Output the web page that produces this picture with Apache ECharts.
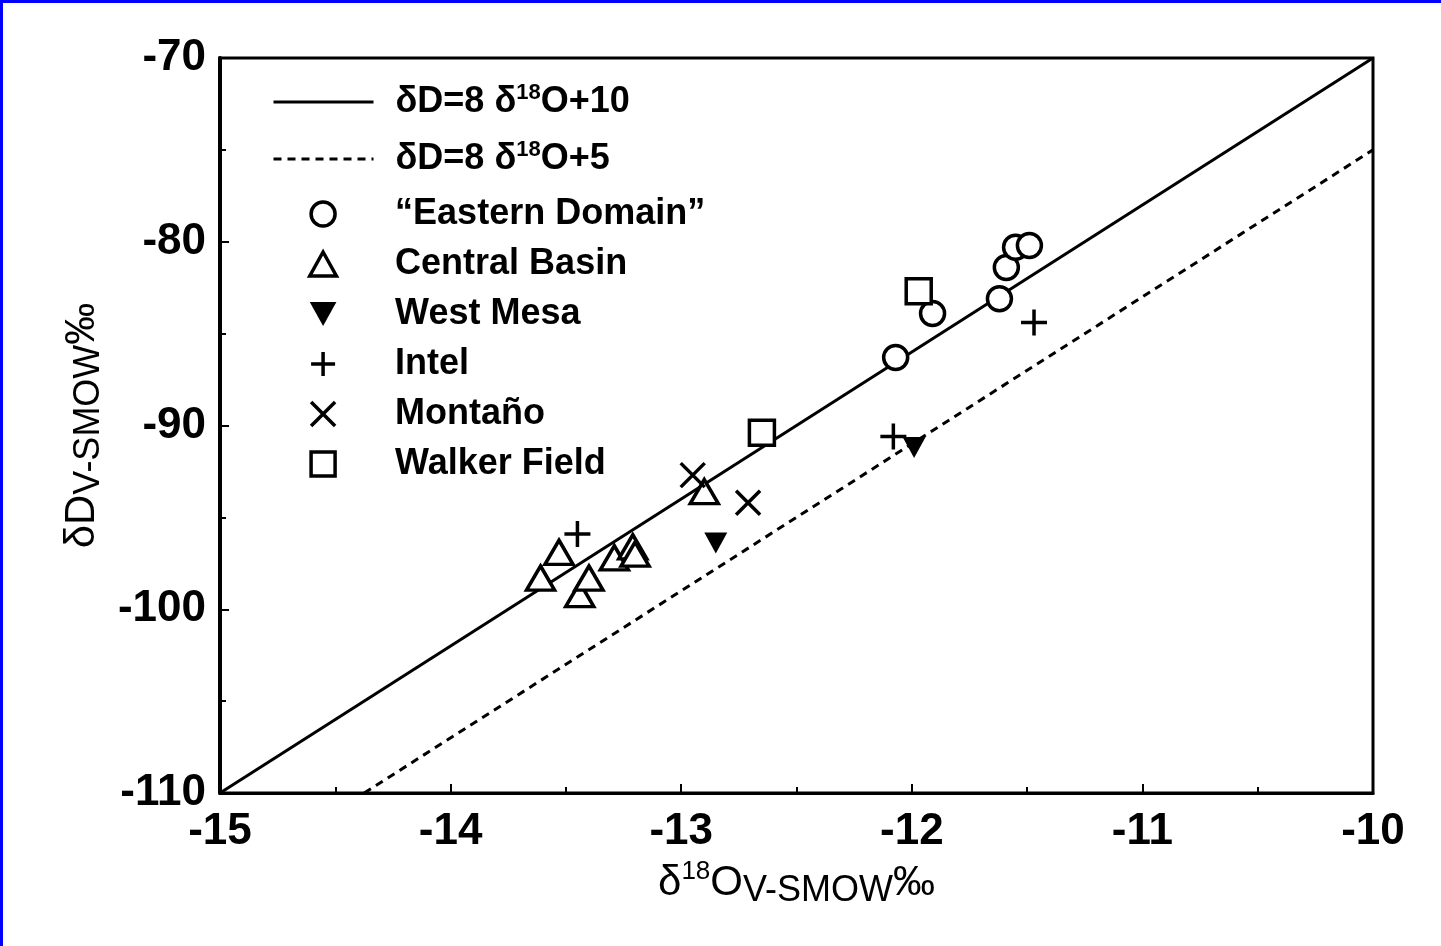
<!DOCTYPE html>
<html>
<head>
<meta charset="utf-8">
<script src="https://cdn.jsdelivr.net/npm/echarts@6/dist/echarts.min.js"></script>
<style>
  html, body { margin: 0; padding: 0; background: #fff; }
  #chart { width: 1441px; height: 946px; }
  .edge { position: absolute; background: #0000ff; }
</style>
</head>
<body>
<div id="chart"></div>
<div class="edge" style="left:0;top:0;width:3px;height:946px"></div>
<div class="edge" style="left:0;top:0;width:1441px;height:3px"></div>
<script>
// reference lines (end points)
const gmwl = [[-15, -110], [-10, -70]]      // δD = 8 δ18O + 10
const lmwl = [[-14.375, -110], [-10, -75]]  // δD = 8 δ18O + 5

// samples [δ18O, δD]
const eastern = [[-12.07, -86.3], [-11.91, -83.9], [-11.62, -83.1], [-11.59, -81.4], [-11.55, -80.3], [-11.49, -80.2]]
const central = [[-13.61, -98.3], [-13.53, -96.9], [-13.44, -99.2], [-13.40, -98.3], [-13.29, -97.2], [-13.21, -96.6], [-13.20, -97.0], [-12.90, -93.6]]
const westMesa = [[-11.99, -91.2], [-12.85, -96.4]]
const intel = [[-11.47, -84.4], [-12.08, -90.6], [-13.45, -95.9]]
const montano = [[-12.95, -92.7], [-12.71, -94.2]]
const walker = [[-11.97, -82.7], [-12.65, -90.4]]

const xTicks = [-15, -14, -13, -12, -11, -10]
const yTicks = [-110, -100, -90, -80, -70]

const FONT = '"Liberation Sans", Arial, Helvetica, sans-serif'
const PLUS = 'path://M0,10L20,10M10,0L10,20'
const CROSS = 'path://M0,0L20,20M20,0L0,20'
const TRI_UP = 'path://M10,0L20,18L0,18Z'
const TRI_DOWN = 'path://M0,0L20,0L10,18Z'
const SQUARE = 'path://M0,0L20,0L20,20L0,20Z'

const hollow = { color: '#fff', borderColor: '#000', borderWidth: 3.5, opacity: 1 }
const stroked = { color: 'transparent', borderColor: '#000', borderWidth: 3.5, opacity: 1 }
const noDot = { color: 'transparent', borderColor: 'transparent', borderWidth: 0 }

const legendRich = {
  sp: { width: 17 },
  a: { fontSize: 36, fontWeight: 'bold', lineHeight: 40, color: '#000', fontFamily: FONT },
  sup: { fontSize: 22, fontWeight: 'bold', lineHeight: 24, verticalAlign: 'top', color: '#000', fontFamily: FONT },
}

const nameRich = {
  a: { fontSize: 42, lineHeight: 50, color: '#000', fontFamily: FONT },
  sup: { fontSize: 26, lineHeight: 30, verticalAlign: 'top', color: '#000', fontFamily: FONT },
  sub: { fontSize: 36, lineHeight: 32, verticalAlign: 'bottom', color: '#000', fontFamily: FONT },
}

const chart = echarts.init(document.getElementById('chart'))

chart.setOption({
  animation: false,
  backgroundColor: '#fff',
  color: ['#000'],
  grid: {
    left: 220, right: 68, top: 58, bottom: 153,
    show: true, borderColor: '#000', borderWidth: 3,
  },
  legend: [
    {
      left: 267, top: 77, orient: 'vertical',
      itemWidth: 100, itemHeight: 22, itemGap: 19,
      selectedMode: false,
      data: [
        { name: 'gmwl', itemStyle: noDot, lineStyle: { width: 3, color: '#000' } },
        { name: 'lmwl', itemStyle: noDot, lineStyle: { width: 3, color: '#000' } },
      ],
      formatter: n => n === 'gmwl'
        ? '{sp|}{a|δD=8 δ}{sup|18}{a|O+10}'
        : '{sp|}{a|δD=8 δ}{sup|18}{a|O+5}',
      textStyle: { rich: legendRich },
    },
    {
      // the box starts at the (narrow) icons, not at the item's left edge
      left: 303, top: 191, orient: 'vertical',
      itemWidth: 100, itemHeight: 24, itemGap: 14,
      selectedMode: false,
      data: [
        { name: '“Eastern Domain”', icon: 'circle', itemStyle: hollow },
        { name: 'Central Basin', icon: TRI_UP, itemStyle: hollow },
        { name: 'West Mesa', icon: TRI_DOWN, itemStyle: { color: '#000', borderWidth: 0, opacity: 1 } },
        { name: 'Intel', icon: PLUS, itemStyle: stroked },
        { name: 'Montaño', icon: CROSS, itemStyle: stroked },
        { name: 'Walker Field', icon: SQUARE, itemStyle: hollow },
      ],
      formatter: n => '{sp|}{a|' + n + '}',
      textStyle: { rich: legendRich },
    },
  ],
  xAxis: {
    type: 'value', min: -15, max: -10, interval: 1,
    name: '{a|δ}{sup|18}{a|O}{sub|V-SMOW}{a|‰}',
    nameLocation: 'middle', nameGap: 65,
    nameTextStyle: { rich: nameRich },
    axisLine: { onZero: false, lineStyle: { color: '#000', width: 3 } },
    axisTick: { inside: true, length: 9, lineStyle: { color: '#000', width: 2 } },
    minorTick: { show: true, splitNumber: 2, length: 6, lineStyle: { color: '#000', width: 2 } },
    splitLine: { show: false },
    axisLabel: {
      color: '#000', fontSize: 44, fontWeight: 'bold', fontFamily: FONT, margin: 17,
      formatter: v => xTicks.includes(v) ? String(v) : '',
    },
  },
  yAxis: {
    type: 'value', min: -110, max: -70, interval: 10,
    name: '{a|δD}{sub|V-SMOW}{a|‰}',
    nameLocation: 'middle', nameGap: 98,
    nameTextStyle: { rich: nameRich },
    axisLine: { onZero: false, lineStyle: { color: '#000', width: 4 } },
    axisTick: { inside: true, length: 9, lineStyle: { color: '#000', width: 2 } },
    minorTick: { show: true, splitNumber: 2, length: 6, lineStyle: { color: '#000', width: 2 } },
    splitLine: { show: false },
    axisLabel: {
      color: '#000', fontSize: 44, fontWeight: 'bold', fontFamily: FONT, margin: 14,
      formatter: v => yTicks.includes(v) ? String(v) : '',
    },
  },
  series: [
    {
      name: 'gmwl', type: 'line', data: gmwl, symbol: 'none', z: 1,
      itemStyle: { color: '#000' },
      lineStyle: { color: '#000', width: 3 },
    },
    {
      name: 'lmwl', type: 'line', data: lmwl, symbol: 'none', z: 1,
      itemStyle: { color: '#000' },
      lineStyle: { color: '#000', width: 3, type: [8, 6] },
    },
    {
      name: '“Eastern Domain”', type: 'scatter', data: eastern, z: 3,
      symbol: 'circle', symbolSize: 24, itemStyle: hollow,
    },
    {
      name: 'Central Basin', type: 'scatter', data: central, z: 3,
      symbol: TRI_UP, symbolSize: [28, 24], itemStyle: hollow,
    },
    {
      name: 'West Mesa', type: 'scatter', data: westMesa, z: 3,
      symbol: TRI_DOWN, symbolSize: [23, 21], itemStyle: { color: '#000', opacity: 1 },
    },
    {
      name: 'Intel', type: 'scatter', data: intel, z: 3,
      symbol: PLUS, symbolSize: 26, itemStyle: stroked,
    },
    {
      name: 'Montaño', type: 'scatter', data: montano, z: 3,
      symbol: CROSS, symbolSize: 24, itemStyle: stroked,
    },
    {
      name: 'Walker Field', type: 'scatter', data: walker, z: 3,
      symbol: SQUARE, symbolSize: 25, itemStyle: hollow,
    },
  ],
})
</script>
</body>
</html>
